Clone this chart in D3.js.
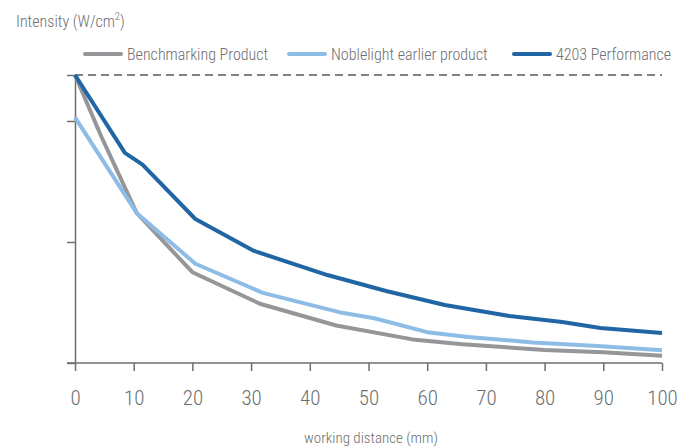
<!DOCTYPE html>
<html>
<head>
<meta charset="utf-8">
<script src="https://cdn.jsdelivr.net/npm/d3@7"></script>
<style>
  body { margin: 0; background: #fff; }
  text { font-family: "Roboto Condensed", "DejaVu Sans Condensed", sans-serif; font-weight: 300; fill: #6d6e71; }
</style>
</head>
<body>
<div id="chart"></div>
<script>
// values (y in relative units, top of chart = 2.38)
const seriesNames = ["Benchmarking Product", "Noblelight earlier product", "4203 Performance"];
const seriesColors = ["#959699", "#8dbde6", "#2166a4"];

const benchX = [0, 4.5, 10.5, 20, 31.5, 44.5, 57.5, 66, 80, 90, 100];
const benchY = [2.38, 1.87, 1.24, 0.75, 0.49, 0.31, 0.195, 0.155, 0.107, 0.088, 0.06];

const nobleX = [0, 10.5, 20.5, 32, 45, 51, 60, 67, 78, 89, 100];
const nobleY = [2.03, 1.24, 0.82, 0.58, 0.42, 0.37, 0.255, 0.215, 0.17, 0.14, 0.105];

const perfX = [0, 8.5, 11.5, 20.5, 30.5, 43, 53, 63, 74, 83, 89.5, 100];
const perfY = [2.38, 1.736, 1.64, 1.19, 0.926, 0.727, 0.595, 0.479, 0.388, 0.339, 0.289, 0.248];

const xTicks = [0, 10, 20, 30, 40, 50, 60, 70, 80, 90, 100];
const yTicks = [0, 1, 2, 2.38];
const yMax = 2.38;

const width = 694, height = 447;
const svg = d3.select("#chart").append("svg")
    .attr("width", width)
    .attr("height", height);

const x = d3.scaleLinear().domain([0, 100]).range([75, 662]);
const y = d3.scaleLinear().domain([0, yMax]).range([363, 75]);

// dashed reference line at top
svg.append("line")
    .attr("x1", x(0)).attr("x2", x(100))
    .attr("y1", y(yMax)).attr("y2", y(yMax))
    .attr("stroke", "#58595b")
    .attr("stroke-width", 1.5)
    .attr("stroke-dasharray", "8,5");

// axes
const xAxis = svg.append("g")
    .attr("transform", "translate(0,363)")
    .call(d3.axisBottom(x).tickValues(xTicks).tickSize(8).tickPadding(10).tickSizeOuter(0));
xAxis.select(".domain").attr("d", "M67,0H" + x(100)).attr("stroke", "#6d6e71").attr("stroke-width", 1.5);
xAxis.selectAll(".tick line").attr("stroke", "#6d6e71").attr("stroke-width", 1.5);
xAxis.selectAll(".tick text")
    .attr("dy", null)
    .attr("y", 42)
    .style("font-size", "21px")
    .attr("fill", "#6d6e71");

const yAxis = svg.append("g")
    .attr("transform", "translate(75,0)")
    .call(d3.axisLeft(y).tickValues(yTicks).tickSize(8).tickFormat("").tickSizeOuter(0));
yAxis.select(".domain").attr("stroke", "#6d6e71").attr("stroke-width", 1.5);
yAxis.selectAll(".tick line").attr("stroke", "#6d6e71").attr("stroke-width", 1.5);

// lines
const lineGen = d3.line().x(d => x(d[0])).y(d => y(d[1]));
const allSeries = [
    d3.zip(benchX, benchY),
    d3.zip(nobleX, nobleY),
    d3.zip(perfX, perfY)
];

svg.selectAll("path.series")
    .data(allSeries)
    .enter()
    .append("path")
    .attr("class", "series")
    .attr("d", lineGen)
    .attr("fill", "none")
    .attr("stroke", (d, i) => seriesColors[i])
    .attr("stroke-width", 4)
    .attr("stroke-linejoin", "round");

// titles
svg.append("text")
    .attr("x", 16).attr("y", 27)
    .style("font-size", "16px")
    .html('Intensity (W/cm<tspan dy="-7" font-size="10px">2</tspan><tspan dy="7">)</tspan>');

svg.append("text")
    .attr("x", 371).attr("y", 443)
    .attr("text-anchor", "middle")
    .style("font-size", "15px")
    .text("working distance (mm)");

// legend
const legendX = [85, 289, 514];
const legend = svg.selectAll("g.legend")
    .data(seriesNames)
    .enter()
    .append("g")
    .attr("class", "legend")
    .attr("transform", (d, i) => `translate(${legendX[i]},54)`);

legend.append("line")
    .attr("x1", 0).attr("x2", 36)
    .attr("stroke", (d, i) => seriesColors[i])
    .attr("stroke-width", 4)
    .attr("stroke-linecap", "round");

legend.append("text")
    .attr("x", 42).attr("y", 6)
    .style("font-size", "16px")
    .text(d => d);
</script>
</body>
</html>
